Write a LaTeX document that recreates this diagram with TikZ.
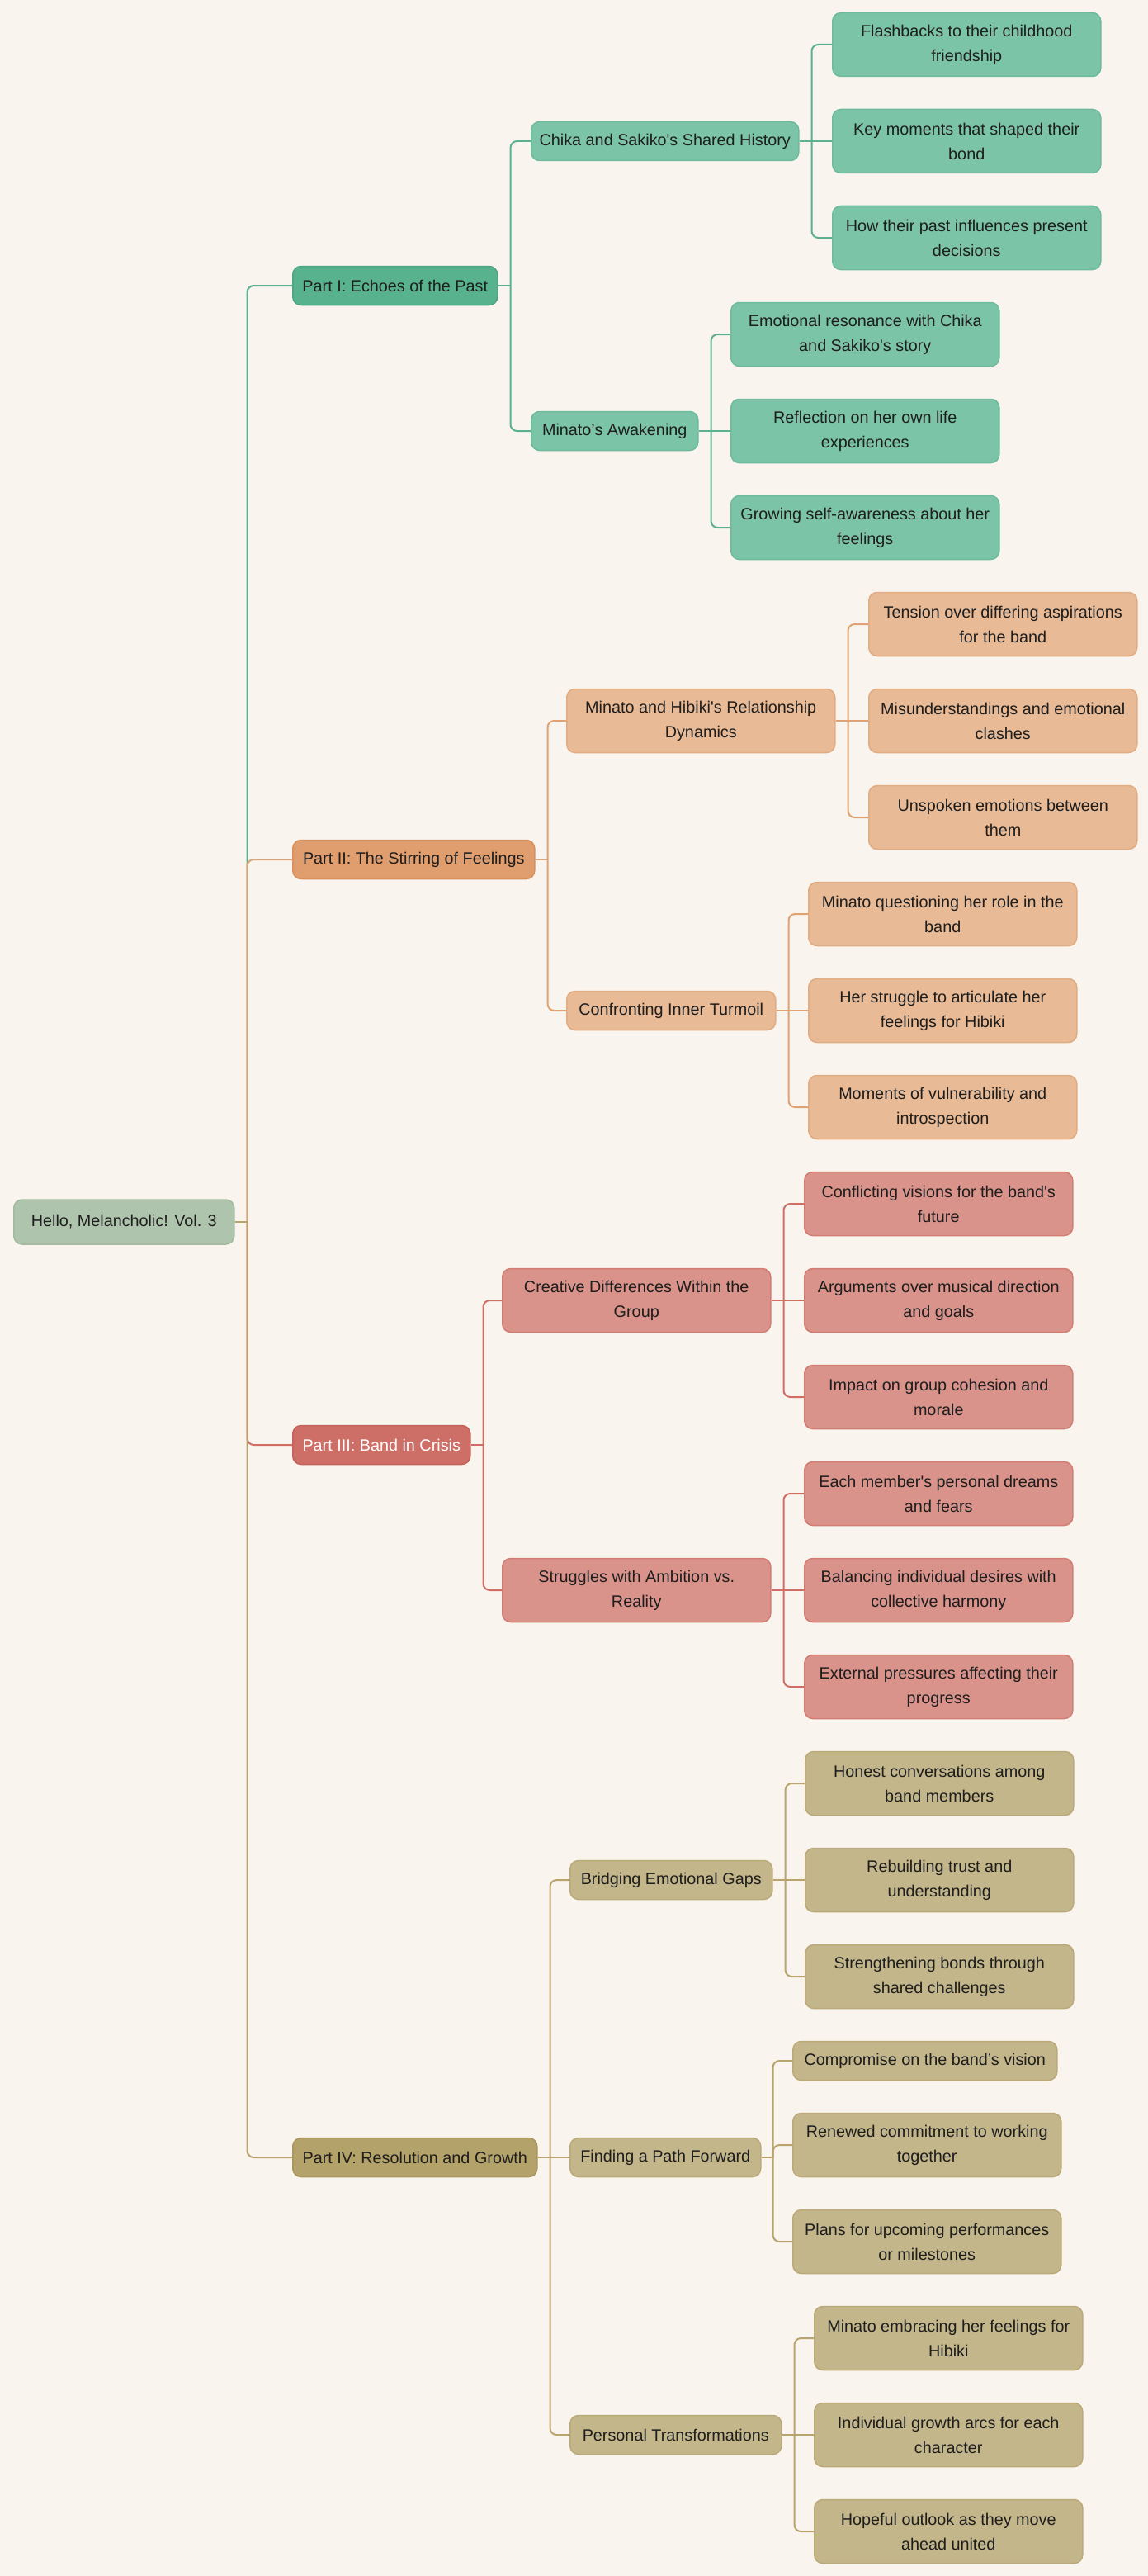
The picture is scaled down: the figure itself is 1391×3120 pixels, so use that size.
\documentclass[tikz,border=0pt]{standalone}
\usepackage{fontspec}
\setmainfont{Liberation Sans}[Ligatures=TeXOff]
\definecolor{bg}{HTML}{F9F5EE}
\definecolor{rootf}{HTML}{AFC4AC}\definecolor{roots}{HTML}{A3BA9F}
\definecolor{gA}{HTML}{59B28E}\definecolor{gAs}{HTML}{4EA580}\definecolor{gB}{HTML}{7CC4A8}\definecolor{gBs}{HTML}{6DBB9C}\definecolor{gE}{HTML}{5BB08D}
\definecolor{oA}{HTML}{E09E6E}\definecolor{oAs}{HTML}{D98F5C}\definecolor{oB}{HTML}{E8BA96}\definecolor{oBs}{HTML}{E2AC82}\definecolor{oE}{HTML}{E0A272}
\definecolor{rA}{HTML}{CD6F67}\definecolor{rAs}{HTML}{C4625A}\definecolor{rB}{HTML}{DA938A}\definecolor{rBs}{HTML}{D27C73}\definecolor{rE}{HTML}{D06D65}
\definecolor{yA}{HTML}{B3A26A}\definecolor{yAs}{HTML}{A8965D}\definecolor{yB}{HTML}{C4B68B}\definecolor{yBs}{HTML}{BBAA78}\definecolor{yE}{HTML}{B9A46E}
\definecolor{ink}{HTML}{1E1E1E}
\tikzset{
  box/.style={rectangle, rounded corners=10pt, draw, line width=1.5pt, anchor=west, align=center,
    inner sep=0pt, text=ink, font=\fontsize{19.8}{30}\selectfont},
  one/.style={minimum height=47pt},
  two/.style={minimum height=77pt},
  lf/.style={box, two, minimum width=325pt},
  edge/.style={line width=2pt},
  elbow/.style={line width=2pt, rounded corners=8pt},
  grn/.style={fill=gB, draw=gBs},
  org/.style={fill=oB, draw=oBs},
  red/.style={fill=rB, draw=rBs},
  tan/.style={fill=yB, draw=yBs},
}
\begin{document}
\begin{tikzpicture}[x=1pt,y=-1pt]
\fill[bg] (0,0) rectangle (1391,3120);
\useasboundingbox (0,0) rectangle (1391,3120);

% root and parts
\node[box, minimum width=267pt, minimum height=54pt, fill=rootf, draw=roots] (root) at (16,1480) {Hello, Melancholic! Vol. 3};
\node[box, one, minimum width=248pt, fill=gA, draw=gAs] (p1) at (354,346) {Part I: Echoes of the Past};
\node[box, one, minimum width=293pt, fill=oA, draw=oAs] (p2) at (354,1041) {Part II: The Stirring of Feelings};
\node[box, one, minimum width=215pt, fill=rA, draw=rAs, text=white] (p3) at (354,1750) {Part III: Band in Crisis};
\node[box, one, minimum width=296pt, fill=yA, draw=yAs] (p4) at (354,2613) {Part IV: Resolution and Growth};

% Part I
\node[box, one, minimum width=324pt, grn] (a1) at (643,171) {Chika and Sakiko's Shared History};
\node[box, one, minimum width=202pt, grn] (a2) at (643,522) {Minato’s Awakening};
\node[lf, grn] (a11) at (1008,54) {Flashbacks to their childhood\\friendship};
\node[lf, grn] (a12) at (1008,171) {Key moments that shaped their\\bond};
\node[lf, grn] (a13) at (1008,288) {How their past influences present\\decisions};
\node[lf, grn] (a21) at (885,405) {Emotional resonance with Chika\\and Sakiko's story};
\node[lf, grn] (a22) at (885,522) {Reflection on her own life\\experiences};
\node[lf, grn] (a23) at (885,639) {Growing self-awareness about her\\feelings};

% Part II
\node[lf, org] (b1) at (686,873) {Minato and Hibiki's Relationship\\Dynamics};
\node[box, one, minimum width=253pt, org] (b2) at (686,1224) {Confronting Inner Turmoil};
\node[lf, org] (b11) at (1052,756) {Tension over differing aspirations\\for the band};
\node[lf, org] (b12) at (1052,873) {Misunderstandings and emotional\\clashes};
\node[lf, org] (b13) at (1052,990) {Unspoken emotions between\\them};
\node[lf, org] (b21) at (979,1107) {Minato questioning her role in the\\band};
\node[lf, org] (b22) at (979,1224) {Her struggle to articulate her\\feelings for Hibiki};
\node[lf, org] (b23) at (979,1341) {Moments of vulnerability and\\introspection};

% Part III
\node[lf, red] (c1) at (608,1575) {Creative Differences Within the\\Group};
\node[lf, red] (c2) at (608,1926) {Struggles with Ambition vs.\\Reality};
\node[lf, red] (c11) at (974,1458) {Conflicting visions for the band's\\future};
\node[lf, red] (c12) at (974,1575) {Arguments over musical direction\\and goals};
\node[lf, red] (c13) at (974,1692) {Impact on group cohesion and\\morale};
\node[lf, red] (c21) at (974,1809) {Each member's personal dreams\\and fears};
\node[lf, red] (c22) at (974,1926) {Balancing individual desires with\\collective harmony};
\node[lf, red] (c23) at (974,2043) {External pressures affecting their\\progress};

% Part IV
\node[box, one, minimum width=245pt, tan] (d1) at (690,2277) {Bridging Emotional Gaps};
\node[box, one, minimum width=231pt, tan] (d2) at (690,2613) {Finding a Path Forward};
\node[box, one, minimum width=256pt, tan] (d3) at (690,2949) {Personal Transformations};
\node[lf, tan] (d11) at (975,2160) {Honest conversations among\\band members};
\node[lf, tan] (d12) at (975,2277) {Rebuilding trust and\\understanding};
\node[lf, tan] (d13) at (975,2394) {Strengthening bonds through\\shared challenges};
\node[box, one, minimum width=320pt, tan] (d21) at (960,2496) {Compromise on the band’s vision};
\node[lf, tan] (d22) at (960,2598) {Renewed commitment to working\\together};
\node[lf, tan] (d23) at (960,2715) {Plans for upcoming performances\\or milestones};
\node[lf, tan] (d31) at (986,2832) {Minato embracing her feelings for\\Hibiki};
\node[lf, tan] (d32) at (986,2949) {Individual growth arcs for each\\character};
\node[lf, tan] (d33) at (986,3066) {Hopeful outlook as they move\\ahead united};

% connectors root -> parts (stub sharp, bend rounded)
\draw[elbow, gE] (root.east) ++(15,0) |- (p1.west);
\draw[elbow, oE] (root.east) ++(15,0) |- (p2.west);
\draw[elbow, rE] (root.east) ++(15,0) |- (p3.west);
\draw[elbow, yE] (root.east) ++(15,0) |- (p4.west);
\draw[edge, yE] (root.east) -- ++(15,0);

% Part I
\draw[edge, gE] (p1.east) -- ++(15,0);
\draw[elbow, gE] (p1.east) ++(15,0) |- (a1.west);
\draw[elbow, gE] (p1.east) ++(15,0) |- (a2.west);
\draw[elbow, gE] (a1.east) ++(15,0) |- (a11.west);
\draw[edge, gE] (a1.east) -- (a12.west);
\draw[elbow, gE] (a1.east) ++(15,0) |- (a13.west);
\draw[elbow, gE] (a2.east) ++(15,0) |- (a21.west);
\draw[edge, gE] (a2.east) -- (a22.west);
\draw[elbow, gE] (a2.east) ++(15,0) |- (a23.west);

% Part II
\draw[edge, oE] (p2.east) -- ++(15,0);
\draw[elbow, oE] (p2.east) ++(15,0) |- (b1.west);
\draw[elbow, oE] (p2.east) ++(15,0) |- (b2.west);
\draw[elbow, oE] (b1.east) ++(15,0) |- (b11.west);
\draw[edge, oE] (b1.east) -- (b12.west);
\draw[elbow, oE] (b1.east) ++(15,0) |- (b13.west);
\draw[elbow, oE] (b2.east) ++(15,0) |- (b21.west);
\draw[edge, oE] (b2.east) -- (b22.west);
\draw[elbow, oE] (b2.east) ++(15,0) |- (b23.west);

% Part III
\draw[edge, rE] (p3.east) -- ++(15,0);
\draw[elbow, rE] (p3.east) ++(15,0) |- (c1.west);
\draw[elbow, rE] (p3.east) ++(15,0) |- (c2.west);
\draw[elbow, rE] (c1.east) ++(15,0) |- (c11.west);
\draw[edge, rE] (c1.east) -- (c12.west);
\draw[elbow, rE] (c1.east) ++(15,0) |- (c13.west);
\draw[elbow, rE] (c2.east) ++(15,0) |- (c21.west);
\draw[edge, rE] (c2.east) -- (c22.west);
\draw[elbow, rE] (c2.east) ++(15,0) |- (c23.west);

% Part IV
\draw[elbow, yE] (p4.east) ++(15,0) |- (d1.west);
\draw[edge, yE] (p4.east) -- (d2.west);
\draw[elbow, yE] (p4.east) ++(15,0) |- (d3.west);
\draw[elbow, yE] (d1.east) ++(15,0) |- (d11.west);
\draw[edge, yE] (d1.east) -- (d12.west);
\draw[elbow, yE] (d1.east) ++(15,0) |- (d13.west);
\draw[edge, yE] (d2.east) -- ++(14,0);
\draw[elbow, yE] (d2.east) ++(14,0) |- (d21.west);
\draw[elbow, yE] (d2.east) ++(14,0) |- (d22.west);
\draw[elbow, yE] (d2.east) ++(14,0) |- (d23.west);
\draw[elbow, yE] (d3.east) ++(15,0) |- (d31.west);
\draw[edge, yE] (d3.east) -- (d32.west);
\draw[elbow, yE] (d3.east) ++(15,0) |- (d33.west);
\end{tikzpicture}
\end{document}
